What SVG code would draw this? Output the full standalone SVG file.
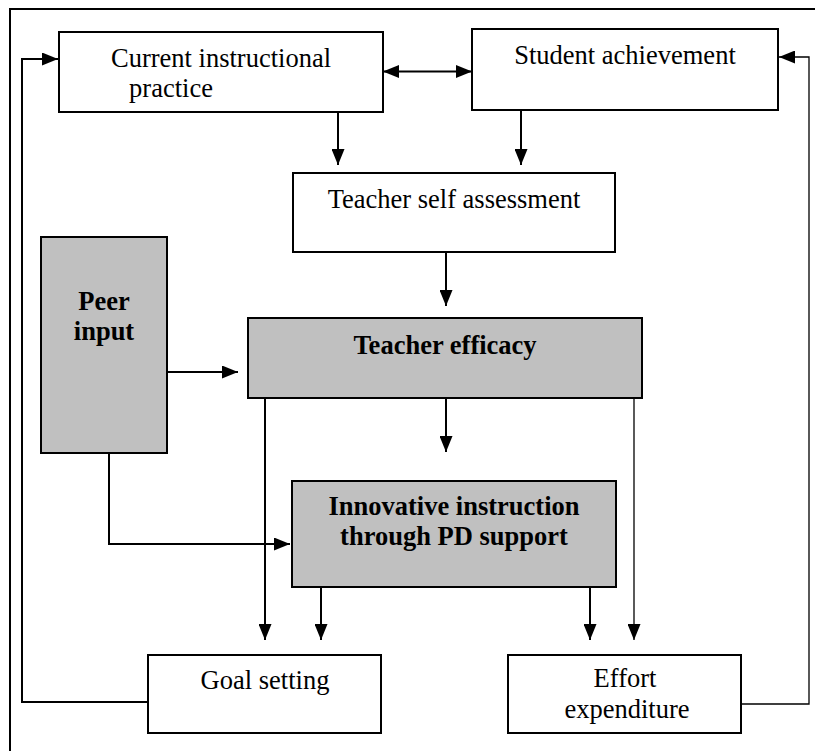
<svg xmlns="http://www.w3.org/2000/svg" width="815" height="751" viewBox="0 0 815 751">
<style>
.box{fill:#fff;stroke:#000;stroke-width:2}
.gray{fill:#c0c0c0;stroke:#000;stroke-width:2}
.t{font-family:"Liberation Serif","Times New Roman",serif;font-size:26.5px;fill:#000;text-anchor:middle}
.b{font-weight:bold}
.c{fill:none;stroke:#000;stroke-width:2}
.thin{fill:none;stroke:#000;stroke-width:1.3}
</style>
<defs>
<marker id="ah" markerUnits="userSpaceOnUse" markerWidth="16" markerHeight="13" refX="16" refY="6.5" orient="auto">
<path d="M0,0 L16,6.5 L0,13 z" fill="#000"/>
</marker>
<marker id="ahs" markerUnits="userSpaceOnUse" markerWidth="16" markerHeight="13" refX="16" refY="6.5" orient="auto-start-reverse">
<path d="M0,0 L16,6.5 L0,13 z" fill="#000"/>
</marker>
</defs>
<g id="frame">
<path d="M10,751 L10,9 L815,9" fill="none" stroke="#000" stroke-width="2"/>
</g>
<g id="connectors">
<path class="c" d="M383,71.5 L472,71.5" marker-start="url(#ahs)" marker-end="url(#ahs)"/>
<path class="c" d="M338,113 L338,165" marker-end="url(#ah)"/>
<path class="c" d="M521,110 L521,165" marker-end="url(#ah)"/>
<path class="c" d="M446,252 L446,306" marker-end="url(#ah)"/>
<path class="c" d="M446,398 L446,452" marker-end="url(#ah)"/>
<path class="c" d="M167,372 L238,372" marker-end="url(#ah)"/>
<path class="c" d="M109,453 L109,544 L290,544" marker-end="url(#ah)"/>
<path class="c" d="M265,398 L265,640" marker-end="url(#ah)"/>
<path class="c" d="M321,587 L321,640" marker-end="url(#ah)"/>
<path class="c" d="M590,587 L590,640" marker-end="url(#ah)"/>
<path class="thin" d="M634,398 L634,640" marker-end="url(#ah)"/>
<path class="c" d="M148,702 L22,702 L22,59 L58,59" marker-end="url(#ah)"/>
<path class="thin" d="M741,704 L809,704 L809,57 L779,57" marker-end="url(#ah)"/>
</g>
<g id="current">
<rect class="box" x="59" y="32" width="324" height="80"/>
<text class="t" x="221" y="67">Current instructional</text>
<text class="t" x="171" y="97">practice</text>
</g>
<g id="student">
<rect class="box" x="472" y="29" width="306" height="81"/>
<text class="t" x="625" y="64">Student achievement</text>
</g>
<g id="selfassess">
<rect class="box" x="293" y="173" width="322" height="79"/>
<text class="t" x="454" y="208">Teacher self assessment</text>
</g>
<g id="peer">
<rect class="gray" x="41" y="237" width="126" height="216"/>
<text class="t b" x="104" y="310">Peer</text>
<text class="t b" x="104" y="340">input</text>
</g>
<g id="efficacy">
<rect class="gray" x="248" y="318" width="394" height="80"/>
<text class="t b" x="445" y="354">Teacher efficacy</text>
</g>
<g id="innovative">
<rect class="gray" x="292" y="481" width="324" height="106"/>
<text class="t b" x="454" y="515">Innovative instruction</text>
<text class="t b" x="454" y="545">through PD support</text>
</g>
<g id="goal">
<rect class="box" x="148" y="655" width="233" height="78"/>
<text class="t" x="265" y="689">Goal setting</text>
</g>
<g id="effort">
<rect class="box" x="508" y="655" width="233" height="78"/>
<text class="t" x="625" y="687">Effort</text>
<text class="t" x="627" y="718">expenditure</text>
</g>
</svg>
